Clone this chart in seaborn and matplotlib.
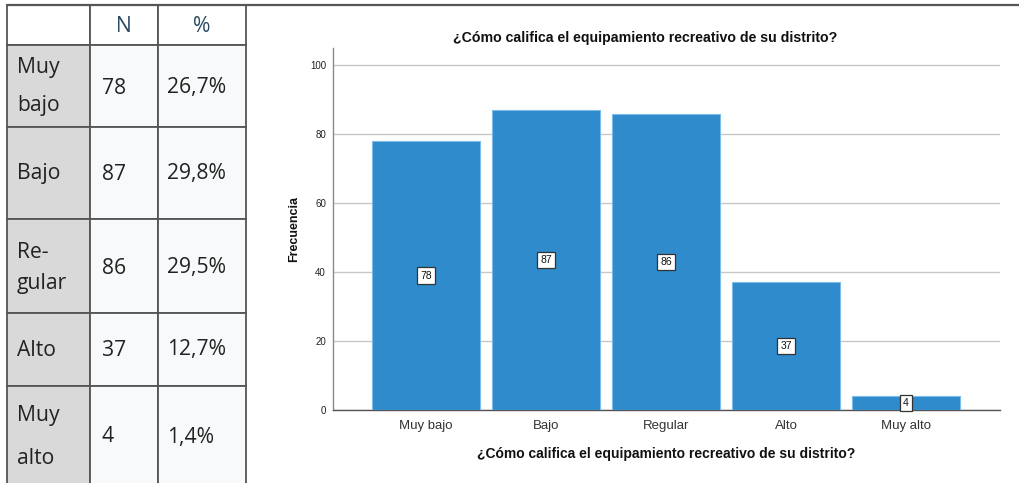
import matplotlib
matplotlib.use("Agg")
import matplotlib.pyplot as plt
import seaborn as sns
import pandas as pd
from matplotlib.patches import Rectangle

# ---- data ----
categories = ["Muy bajo", "Bajo", "Regular", "Alto", "Muy alto"]
counts = [78, 87, 86, 37, 4]
row_labels = [["Muy", "bajo"], ["Bajo"], ["Re-", "gular"], ["Alto"], ["Muy", "alto"]]
percents = ["26,7%", "29,8%", "29,5%", "12,7%", "1,4%"]
header = ["", "N", "%"]
title = "¿Cómo califica el equipamiento recreativo de su distrito?"
ylabel = "Frecuencia"
yticks = [0, 20, 40, 60, 80, 100]

sns.set_theme(style="white")
plt.rcParams["font.family"] = ["Liberation Sans", "DejaVu Sans"]

W, H = 1019, 483
fig = plt.figure(figsize=(W / 100, H / 100), dpi=100)

# ---- table (pixel coordinates) ----
tab = fig.add_axes([0, 0, 1, 1])
tab.set_xlim(0, W)
tab.set_ylim(H, 0)
tab.axis("off")

col_x = [7, 90, 158, 246]
row_y = [5, 45, 127, 219, 313, 386, 500]
border = "#555555"
tfont = ["Open Sans", "DejaVu Sans"]
tsize = 15.2

for r in range(6):
    for c in range(3):
        if r == 0:
            fc = "white"
        elif c == 0:
            fc = "#d9d9d9"
        else:
            fc = "#f8f9fa"
        tab.add_patch(Rectangle((col_x[c], row_y[r]), col_x[c + 1] - col_x[c],
                                row_y[r + 1] - row_y[r], facecolor=fc,
                                edgecolor=border, lw=1.3, zorder=1))
tab.plot([7, W], [5, 5], color=border, lw=1.6, zorder=2)

for c in (1, 2):
    tab.text((col_x[c] + col_x[c + 1]) / 2, 27, header[c], ha="center", va="center",
             fontsize=tsize, color="#2b4a63", family=tfont)

line_pos = {0: [68, 106], 2: [253, 283], 4: [415, 458]}
centers = [88, 174, 268, 350, 437]
for i in range(len(categories)):
    lines = row_labels[i]
    ys = line_pos.get(i, [centers[i]])
    for txt, yy in zip(lines, ys):
        tab.text(17, yy, txt, ha="left", va="center", fontsize=tsize,
                 color="#222222", family=tfont)
    tab.text(102, centers[i], str(counts[i]), ha="left", va="center",
             fontsize=tsize, color="#222222", family=tfont)
    tab.text(167, centers[i], percents[i], ha="left", va="center",
             fontsize=tsize, color="#222222", family=tfont)

# ---- bar chart ----
ax = fig.add_axes([333 / W, (H - 410) / H, (1000 - 333) / W, (410 - 48) / H])
df = pd.DataFrame({"cat": categories, "n": counts})
sns.barplot(data=df, x="cat", y="n", color="#2f8bcb", width=0.9, ax=ax,
            saturation=1, edgecolor="#7dbbe8", linewidth=0.8, zorder=3)
ax.set_xlim(-0.775, 4.783)
ax.set_ylim(0, 105)
ax.set_yticks(yticks)
ax.yaxis.grid(True, color="#c8c8c8", lw=1, zorder=0)
ax.set_axisbelow(True)
for s in ("top", "right"):
    ax.spines[s].set_visible(False)
ax.spines["left"].set_color("#8a8a8a")
ax.spines["bottom"].set_color("#555555")
ax.spines["left"].set_linewidth(1)
ax.spines["bottom"].set_linewidth(1)
ax.tick_params(axis="y", labelsize=7, length=0, pad=5, colors="#222222")
ax.tick_params(axis="x", labelsize=9.5, length=0, pad=7, colors="#333333")
ax.set_xlabel(title, fontsize=10, fontweight="bold", color="#111111", labelpad=11)
ax.set_ylabel(ylabel, fontsize=9, fontweight="bold", color="#111111", labelpad=7)
ax.set_title(title, fontsize=10.2, fontweight="bold", color="#111111", pad=4, x=0.468)

for cont in ax.containers:
    ax.bar_label(cont, label_type="center", fontsize=7.5, color="#111111",
                 bbox=dict(boxstyle="square,pad=0.3", fc="white", ec="#333333", lw=0.9),
                 zorder=5)

fig.savefig("out.png", dpi=100)
